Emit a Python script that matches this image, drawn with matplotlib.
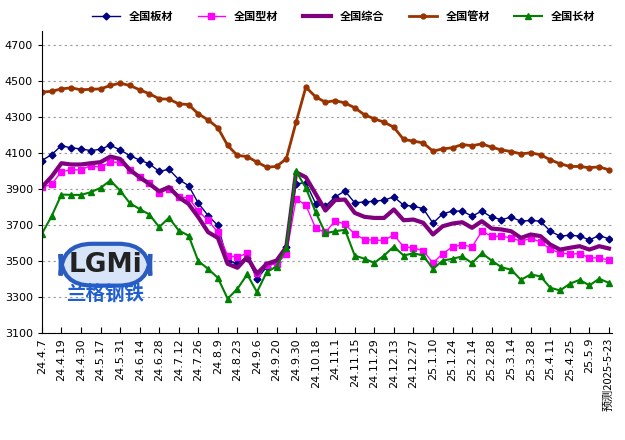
import numpy as np
import matplotlib.pyplot as plt

plt.rcParams['font.family'] = ['DejaVu Sans', 'Noto Sans CJK JP']
CJK = 'Noto Sans CJK JP'

# weekly prices, 59 points
plate = [4059, 4092, 4142, 4129, 4124, 4114, 4122, 4144, 4118, 4086, 4062, 4040, 3999, 4010, 3953,
         3920, 3822, 3753, 3698, 3500, 3489, 3520, 3402, 3467, 3494, 3578, 3930, 3936, 3820, 3805,
         3857, 3890, 3824, 3829, 3833, 3839, 3857, 3811, 3805, 3792, 3711, 3763, 3778, 3778, 3750,
         3778, 3744, 3731, 3744, 3722, 3726, 3722, 3666, 3639, 3644, 3639, 3618, 3642, 3624]
section = [3911, 3926, 3998, 4007, 4007, 4031, 4022, 4050, 4050, 4007, 3966, 3933, 3878, 3902, 3855,
           3852, 3778, 3726, 3661, 3531, 3522, 3544, 3433, 3481, 3485, 3537, 3846, 3811, 3683, 3659,
           3724, 3705, 3650, 3620, 3616, 3616, 3646, 3579, 3574, 3557, 3490, 3542, 3579, 3590, 3579,
           3666, 3638, 3638, 3629, 3611, 3626, 3607, 3566, 3546, 3538, 3542, 3518, 3518, 3505]
composite = [3911, 3970, 4044, 4037, 4037, 4044, 4050, 4081, 4068, 4007, 3966, 3929, 3888, 3911, 3855,
             3818, 3744, 3661, 3629, 3485, 3463, 3522, 3430, 3485, 3503, 3578, 3994, 3966, 3874, 3781,
             3839, 3842, 3768, 3746, 3740, 3740, 3787, 3727, 3731, 3713, 3648, 3694, 3709, 3716, 3685,
             3722, 3681, 3676, 3666, 3629, 3648, 3639, 3592, 3564, 3574, 3583, 3564, 3583, 3570]
pipe = [4439, 4444, 4457, 4463, 4452, 4455, 4457, 4476, 4489, 4476, 4452, 4430, 4402, 4400, 4374,
        4370, 4318, 4285, 4241, 4143, 4087, 4081, 4050, 4022, 4026, 4069, 4272, 4467, 4413, 4383,
        4392, 4379, 4352, 4313, 4291, 4272, 4244, 4176, 4167, 4157, 4111, 4124, 4130, 4148, 4141,
        4152, 4133, 4118, 4109, 4096, 4102, 4091, 4063, 4041, 4026, 4026, 4019, 4024, 4007]
long_ = [3652, 3750, 3870, 3868, 3868, 3883, 3907, 3948, 3892, 3822, 3789, 3759, 3689, 3741, 3670,
         3642, 3500, 3457, 3407, 3291, 3346, 3426, 3328, 3439, 3470, 3574, 3999, 3907, 3772, 3655,
         3666, 3674, 3531, 3513, 3490, 3531, 3581, 3531, 3544, 3531, 3457, 3503, 3513, 3526, 3489,
         3544, 3503, 3466, 3452, 3396, 3426, 3415, 3352, 3337, 3374, 3396, 3365, 3402, 3379]

tick_labels = ['24.4.7', '24.4.19', '24.4.30', '24.5.17', '24.5.31', '24.6.14', '24.6.28', '24.7.12',
               '24.7.26', '24.8.9', '24.8.23', '24.9.6', '24.9.20', '24.9.30', '24.10.18', '24.11.1',
               '24.11.15', '24.11.29', '24.12.13', '24.12.27', '25.1.10', '25.1.24', '25.2.14',
               '25.2.28', '25.3.14', '25.3.28', '25.4.11', '25.4.25', '25.5.9', '预测2025-5-23']
y_ticks = [3100, 3300, 3500, 3700, 3900, 4100, 4300, 4500, 4700]

x = np.arange(len(plate))

fig = plt.figure(figsize=(6.25, 4.4), dpi=100)
ax = fig.add_axes([0.067, 0.243, 0.912, 0.687])

ax.plot(x, plate, color='#000080', marker='D', markersize=3.5, linewidth=1, label='全国板材')
ax.plot(x, section, color='#ff00ff', marker='s', markersize=4.5, linewidth=1, label='全国型材')
ax.plot(x, composite, color='#800080', linewidth=3, label='全国综合')
ax.plot(x, pipe, color='#993300', marker='o', markersize=3.5, linewidth=2, label='全国管材')
ax.plot(x, long_, color='#008000', marker='^', markersize=4.5, linewidth=1.5, label='全国长材')

ax.set_xlim(0, 58.3)
ax.set_ylim(3100, 4780)
ax.set_yticks(y_ticks)
ax.tick_params(axis='y', labelsize=8, length=3)
ax.set_xticks(x[::2])
ax.set_xticklabels(tick_labels, rotation=90, fontsize=8)
ax.get_xticklabels()[-1].set_family(CJK)
ax.tick_params(axis='x', direction='in', length=4)
ax.yaxis.grid(True, linestyle=(0, (2, 3)), color='#999999', linewidth=0.8)
for s in ['top', 'right']:
    ax.spines[s].set_visible(False)

# logo
ax.text(6.5, 3480, 'LGMi', fontsize=19, fontweight='bold', color='#222222', ha='center', va='center',
        bbox=dict(boxstyle='round,pad=0.3,rounding_size=1.2', fc='#d8e4f8', ec='#2a5cc0', lw=3))
ax.text(6.5, 3320, '兰格钢铁', fontsize=14, fontweight='bold', color='#1f5fd0', ha='center', va='center',
        family=CJK)

fig.legend(loc='upper center', bbox_to_anchor=(0.55, 1.0), ncol=5, frameon=False,
           handlelength=2.5, columnspacing=2.2, prop={'family': CJK, 'weight': 'bold', 'size': 8})

fig.savefig('out.png', dpi=100)
